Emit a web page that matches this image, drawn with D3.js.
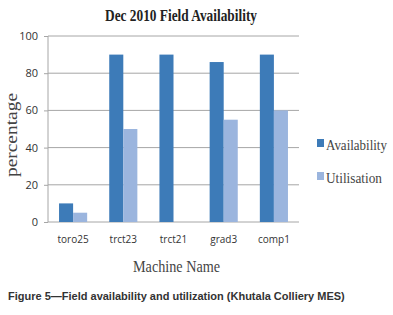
<!DOCTYPE html>
<html><head><meta charset="utf-8">
<script src="https://cdn.jsdelivr.net/npm/d3@7"></script>
<style>body{margin:0;background:#fff}svg{display:block}</style>
</head><body>
<svg id="c" width="393" height="315"></svg>
<script>
const categories = ["toro25","trct23","trct21","grad3","comp1"];
const availability = [10,90,90,86,90];
const utilisation = [5,50,0,55,60];
const seriesNames = ["Availability","Utilisation"];
const yTicks = [0,20,40,60,80,100];

const colors = ["#3d7bb8","#9bb5de"];
const svg = d3.select("#c");
const m = {left:48, right:299, top:36, bottom:222};
const serif = "Liberation Serif, serif";

// horizontally condense a text to a target width (condensed serif look)
function condense(sel, w) {
  sel.each(function(d,i){
    const t = d3.select(this);
    const target = typeof w === "function" ? w(d,i) : w;
    const len = this.getComputedTextLength();
    const k = Math.min(1, target/len);
    const x0 = +t.attr("x") || 0;
    t.attr("x", x0/k).attr("transform", (t.attr("transform")||"") + ` scale(${k},1)`);
  });
}

const x = d3.scaleBand().domain(categories).range([m.left, m.right]).paddingInner(0.44).paddingOuter(0.22);
const xs = d3.scaleBand().domain(seriesNames).range([0, x.bandwidth()]);
const y = d3.scaleLinear().domain([0,100]).range([m.bottom, m.top]);

// gridlines
svg.append("g").selectAll("line").data(yTicks).join("line")
  .attr("x1", m.left).attr("x2", m.right)
  .attr("y1", d=>y(d)).attr("y2", d=>y(d))
  .attr("stroke", "#a6a6a6").attr("stroke-width", 1);
svg.append("line").attr("x1", m.left).attr("x2", m.left).attr("y1", m.top).attr("y2", m.bottom)
  .attr("stroke","#a6a6a6");

// y ticks
const yAxis = d3.axisLeft(y).tickValues(yTicks).tickSize(4).tickPadding(6);
const gy = svg.append("g").attr("transform",`translate(${m.left},0)`).call(yAxis);
gy.select(".domain").remove();
gy.selectAll("line").attr("stroke","#a6a6a6");
gy.selectAll("text").attr("font-family","Open Sans, sans-serif").attr("font-size",11).attr("fill","#333");

// bars
const data = categories.map((c,i)=>({c, vals:[availability[i], utilisation[i]]}));
const g = svg.append("g").selectAll("g").data(data).join("g").attr("transform", d=>`translate(${x(d.c)},0)`);
g.selectAll("rect").data(d=>d.vals.map((v,j)=>({v, s:seriesNames[j], j}))).join("rect")
  .attr("x", d=>xs(d.s)).attr("width", xs.bandwidth())
  .attr("y", d=>y(d.v)).attr("height", d=>m.bottom - y(d.v))
  .attr("fill", d=>colors[d.j]);

// x labels
const gx = svg.append("g").attr("transform",`translate(0,${m.bottom})`).call(d3.axisBottom(x).tickSize(0).tickPadding(14));
gx.select(".domain").remove();
gx.selectAll("text").attr("font-family","Open Sans, sans-serif").attr("font-size",10).attr("fill","#333");

// title
svg.append("text").attr("x",105).attr("y",21)
  .attr("font-family",serif).attr("font-weight","bold").attr("font-size",17).attr("fill","#222")
  .attr("textLength",152).attr("lengthAdjust","spacingAndGlyphs")
  .text("Dec 2010 Field Availability");
// y title
svg.append("text").attr("transform","translate(17,177) rotate(-90)")
  .attr("font-family",serif).attr("font-size",17).attr("fill","#444")
  .attr("textLength",84).attr("lengthAdjust","spacingAndGlyphs").text("percentage");
// x title
svg.append("text").attr("x",133).attr("y",272)
  .attr("font-family",serif).attr("font-size",17).attr("fill","#444")
  .attr("textLength",87).attr("lengthAdjust","spacingAndGlyphs").text("Machine Name");

// legend
const legW = [61,56];
const lg = svg.append("g").selectAll("g").data(seriesNames).join("g")
  .attr("transform",(d,i)=>`translate(317,${150 + i*33})`);
lg.append("rect").attr("x",0).attr("y",-11).attr("width",7).attr("height",8).attr("fill",(d,i)=>colors[i]);
lg.append("text").attr("x",9).attr("y",0).attr("font-family",serif).attr("font-size",15).attr("fill","#444")
  .text(d=>d).call(condense, (d,i)=>legW[i]);

// caption
svg.append("text").attr("x",8).attr("y",300).attr("font-family","Liberation Sans, Arial, sans-serif")
  .attr("font-weight","bold").attr("font-size",11).attr("fill","#333")
  .text("Figure 5\u2014Field availability and utilization (Khutala Colliery MES)");
</script>
</body></html>
